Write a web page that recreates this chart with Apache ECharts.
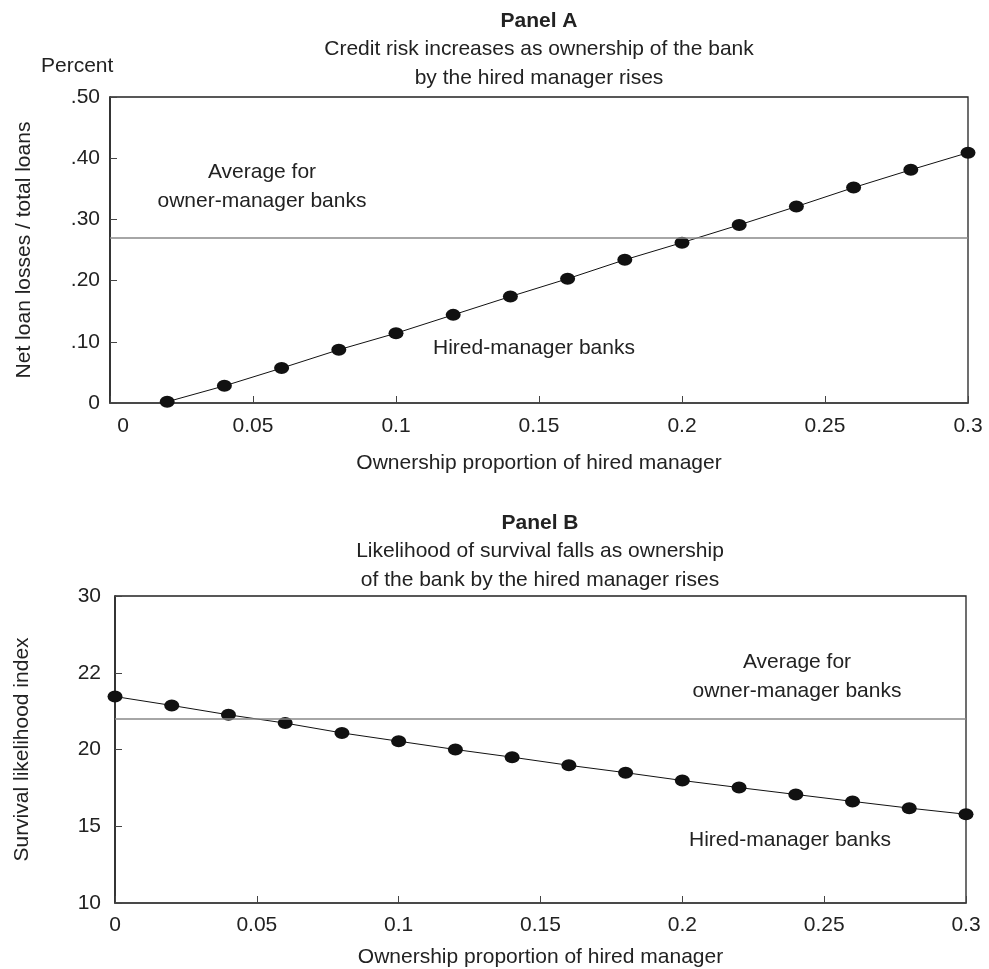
<!DOCTYPE html>
<html>
<head>
<meta charset="utf-8">
<script src="https://cdn.jsdelivr.net/npm/echarts@6/dist/echarts.min.js"></script>
<style>
html,body{margin:0;padding:0;background:#fff;}
#main{width:989px;height:969px;}
</style>
</head>
<body>
<div id="main"></div>
<script>
// panel A : net loan losses vs ownership
var xA = [0.02, 0.04, 0.06, 0.08, 0.10, 0.12, 0.14, 0.16, 0.18, 0.20, 0.22, 0.24, 0.26, 0.28, 0.30];
var lossA = [0.002, 0.028, 0.057, 0.087, 0.114, 0.144, 0.174, 0.203, 0.234, 0.262, 0.291, 0.321, 0.352, 0.381, 0.409];
var avgA = 0.27;
var yTicksA = [0, 0.1, 0.2, 0.3, 0.4, 0.5];
var yLabelsA = ['0', '.10', '.20', '.30', '.40', '.50'];

// panel B : survival likelihood vs ownership
var xB = [0, 0.02, 0.04, 0.06, 0.08, 0.10, 0.12, 0.14, 0.16, 0.18, 0.20, 0.22, 0.24, 0.26, 0.28, 0.30];
var survB = [23.45, 22.87, 22.26, 21.72, 21.08, 20.54, 20.0, 19.5, 18.97, 18.49, 17.98, 17.52, 17.07, 16.62, 16.18, 15.78];
var avgB = 22.02;
var yTicksB = [10, 15, 20, 25, 30];
var yLabelsB = ['10', '15', '20', '22', '30']; // the source prints 22 at the 25 tick

var FONT = "'Liberation Sans', Arial, sans-serif";
var FS = 21;
var TXT = '#222';

function pairs(xs, ys){
    var out = [];
    for(var i=0;i<xs.length;i++){
        out.push([xs[i], ys[i]]);
    }
    return out;
}

function lookup(vals, txts, v){
    for(var i=0;i<vals.length;i++){
        if(Math.abs(vals[i]-v) < 1e-9) return txts[i];
    }
    return '';
}

function xAxisCfg(idx, gap, margin, zeroShift){
    return {
        type: 'value',
        gridIndex: idx,
        min: 0,
        max: 0.3,
        interval: 0.05,
        name: 'Ownership proportion of hired manager',
        nameLocation: 'middle',
        nameGap: gap,
        nameTextStyle: {fontFamily: FONT, fontSize: FS, color: TXT},
        axisLine: {lineStyle: {color: '#444', width: 1.5}},
        axisTick: {inside: true, length: 7, lineStyle: {color: '#444'}},
        axisLabel: {
            fontFamily: FONT, fontSize: FS, color: TXT, margin: margin,
            formatter: function(v){
                // top panel nudges its "0" a bit right of the corner
                if(v === 0 && zeroShift) return '{z|0}';
                return String(v);
            },
            rich: {z: {fontFamily: FONT, fontSize: FS, color: TXT, padding: [0, 0, 0, zeroShift]}}
        },
        splitLine: {show: false}
    };
}

function text(x, y, str, align, bold){
    return {
        type: 'text',
        x: x,
        y: y,
        style: {
            text: str,
            fill: TXT,
            font: (bold ? 'bold ' : '') + FS + 'px ' + FONT,
            align: align || 'center',
            verticalAlign: 'middle',
            lineHeight: 29
        }
    };
}

var myChart = echarts.init(document.getElementById('main'));
var option = {
    animation: false,
    backgroundColor: '#fff',
    grid: [
        {left: 110, top: 97, width: 858, height: 306, show: true, borderColor: '#222', borderWidth: 1.3},
        {left: 115, top: 596, width: 851, height: 308, show: true, borderColor: '#222', borderWidth: 1.3}
    ],
    xAxis: [xAxisCfg(0, 50, 13, 26), xAxisCfg(1, 44, 12, 0)],
    yAxis: [
        {
            type: 'value',
            gridIndex: 0,
            min: 0,
            max: 0.5,
            interval: 0.1,
            name: 'Net loan losses / total loans',
            nameLocation: 'middle',
            nameGap: 75,
            nameTextStyle: {fontFamily: FONT, fontSize: FS, color: TXT},
            axisLine: {show: true, lineStyle: {color: '#222', width: 1.5}},
            axisTick: {show: true, inside: true, length: 7, lineStyle: {color: '#444'}},
            axisLabel: {
                fontFamily: FONT, fontSize: FS, color: TXT, margin: 10,
                formatter: function(v){ return lookup(yTicksA, yLabelsA, v); }
            },
            splitLine: {show: false}
        },
        {
            type: 'value',
            gridIndex: 1,
            min: 10,
            max: 30,
            interval: 5,
            name: 'Survival likelihood index',
            nameLocation: 'middle',
            nameGap: 82,
            nameTextStyle: {fontFamily: FONT, fontSize: FS, color: TXT},
            axisLine: {show: true, lineStyle: {color: '#222', width: 1.5}},
            axisTick: {show: true, inside: true, length: 7, lineStyle: {color: '#444'}},
            axisLabel: {
                fontFamily: FONT, fontSize: FS, color: TXT, margin: 14,
                formatter: function(v){ return lookup(yTicksB, yLabelsB, v); }
            },
            splitLine: {show: false}
        }
    ],
    series: [
        {
            type: 'line',
            xAxisIndex: 0,
            yAxisIndex: 0,
            data: pairs(xA, lossA),
            clip: false,
            symbol: 'circle',
            symbolSize: [15, 12],
            itemStyle: {color: '#111'},
            lineStyle: {color: '#111', width: 1},
            markLine: {
                silent: true,
                symbol: 'none',
                label: {show: false},
                lineStyle: {color: '#888', width: 1.5, type: 'solid'},
                data: [{yAxis: avgA}]
            }
        },
        {
            type: 'line',
            xAxisIndex: 1,
            yAxisIndex: 1,
            data: pairs(xB, survB),
            clip: false,
            symbol: 'circle',
            symbolSize: [15, 12],
            itemStyle: {color: '#111'},
            lineStyle: {color: '#111', width: 1},
            markLine: {
                silent: true,
                symbol: 'none',
                label: {show: false},
                lineStyle: {color: '#888', width: 1.5, type: 'solid'},
                data: [{yAxis: avgB}]
            }
        }
    ],
    graphic: [
        text(539, 21, 'Panel A', 'center', true),
        text(539, 64, 'Credit risk increases as ownership of the bank\nby the hired manager rises'),
        text(41, 66, 'Percent', 'left'),
        text(262, 187, 'Average for\nowner-manager banks'),
        text(534, 348, 'Hired-manager banks'),
        text(540, 523, 'Panel B', 'center', true),
        text(540, 566, 'Likelihood of survival falls as ownership\nof the bank by the hired manager rises'),
        text(797, 677, 'Average for\nowner-manager banks'),
        text(790, 840, 'Hired-manager banks')
    ]
};
myChart.setOption(option);
</script>
</body>
</html>
